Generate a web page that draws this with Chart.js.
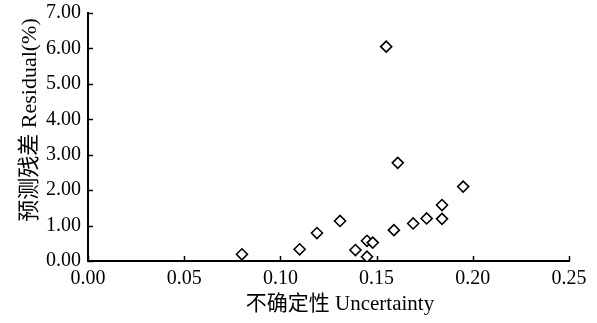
<!DOCTYPE html>
<html>
<head>
<meta charset="utf-8">
<script src="https://cdn.jsdelivr.net/npm/chart.js@4"></script>
<style>
  html, body { margin: 0; padding: 0; background: #fff; }
  #wrap { width: 597px; height: 323px; }
</style>
</head>
<body>
<div id="wrap"><canvas id="chart" width="597" height="323"></canvas></div>
<script>
// values
var uncertainty = [0.080, 0.110, 0.119, 0.131, 0.139, 0.145, 0.145, 0.148, 0.155, 0.159, 0.161, 0.169, 0.176, 0.184, 0.184, 0.195];
var residual    = [0.19, 0.33, 0.79, 1.13, 0.31, 0.12, 0.57, 0.52, 6.05, 0.87, 2.77, 1.06, 1.20, 1.19, 1.58, 2.10];
var xTitle = "不确定性 Uncertainty";
var yTitle = "预测残差 Residual(%)";
var xRange = [0, 0.25, 0.05];
var yRange = [0, 7, 1];

var FONT = "'Liberation Serif', 'Noto Sans CJK SC', serif";

var points = uncertainty.map(function(x, i) { return { x: x, y: residual[i] }; });

// inner tick marks + axis titles
var axisExtras = {
  id: "axisExtras",
  afterDraw: function(chart) {
    var ctx = chart.ctx, area = chart.chartArea;
    var xs = chart.scales.x, ys = chart.scales.y;
    ctx.save();
    ctx.strokeStyle = "#000";
    ctx.lineWidth = 1.5;
    ctx.beginPath();
    xs.ticks.forEach(function(t) {
      var px = Math.round(xs.getPixelForValue(t.value)) + 0.5;
      ctx.moveTo(px, area.bottom);
      ctx.lineTo(px, area.bottom - 5);
    });
    ys.ticks.forEach(function(t) {
      var py = Math.round(ys.getPixelForValue(t.value)) + 0.5;
      ctx.moveTo(area.left, py);
      ctx.lineTo(area.left + 5, py);
    });
    ctx.stroke();

    ctx.fillStyle = "#000";
    ctx.font = "21px " + FONT;
    ctx.textAlign = "center";
    ctx.textBaseline = "middle";
    ctx.fillText(xTitle, area.left + 252, area.bottom + 43);

    ctx.translate(30, area.top + 107);
    ctx.rotate(-Math.PI / 2);
    ctx.font = "22px " + FONT;
    ctx.fillText(yTitle, 0, 0);
    ctx.restore();
  }
};

new Chart(document.getElementById("chart"), {
  type: "scatter",
  data: {
    datasets: [{
      data: points,
      pointStyle: "rectRot",
      pointRadius: 5.5,
      pointHoverRadius: 5.5,
      borderColor: "#000",
      backgroundColor: "#fff",
      borderWidth: 1.6
    }]
  },
  options: {
    responsive: false,
    animation: false,
    events: [],
    layout: { padding: { top: 13, right: 28, left: 0, bottom: 0 } },
    plugins: { legend: { display: false }, tooltip: { enabled: false } },
    scales: {
      x: {
        type: "linear",
        min: xRange[0], max: xRange[1],
        grid: { display: false, drawTicks: false },
        border: { display: true, color: "#000", width: 2 },
        ticks: {
          stepSize: xRange[2], padding: 6, color: "#000",
          font: { family: FONT, size: 20 },
          maxRotation: 0,
          callback: function(v) { return v.toFixed(2); }
        },
        afterFit: function(s) { s.height = 62; s.paddingLeft = 0; s.paddingRight = 0; }
      },
      y: {
        type: "linear",
        min: yRange[0], max: yRange[1],
        grid: { display: false, drawTicks: false },
        border: { display: true, color: "#000", width: 2 },
        ticks: {
          stepSize: yRange[2], padding: 7, color: "#000",
          font: { family: FONT, size: 20 },
          callback: function(v) { return v.toFixed(2); }
        },
        afterFit: function(s) { s.width = 88; s.paddingTop = 0; s.paddingBottom = 0; }
      }
    }
  },
  plugins: [axisExtras]
});
</script>
</body>
</html>
